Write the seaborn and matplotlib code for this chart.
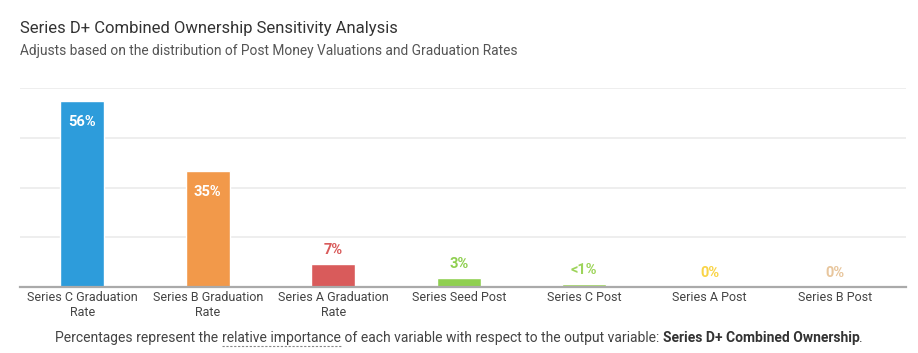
import matplotlib
matplotlib.use("Agg")
import matplotlib.pyplot as plt
import seaborn as sns
import pandas as pd
from matplotlib.lines import Line2D

categories = ["Series C Graduation\nRate", "Series B Graduation\nRate", "Series A Graduation\nRate",
              "Series Seed Post", "Series C Post", "Series A Post", "Series B Post"]
values = [56, 35, 7, 2.7, 0.8, 0, 0]
labels = ["56%", "35%", "7%", "3%", "<1%", "0%", "0%"]
colors = ["#2D9CDB", "#F2994A", "#D95B5B", "#8FCF50", "#9DD45A", "#F9D447", "#E8C69D"]

sns.set_theme(style="white")
plt.rcParams['font.family'] = ['Roboto', 'DejaVu Sans']

fig = plt.figure(figsize=(9.18, 3.53), dpi=100)
W, H = 918, 353
ax = fig.add_axes([19.5 / W, 1 - 287 / H, 886 / W, (287 - 88) / H])

df = pd.DataFrame({"cat": categories, "val": values})
sns.barplot(data=df, x="cat", y="val", hue="cat", palette=colors, legend=False,
            width=0.35, ax=ax, saturation=1)

ax.set_ylim(0, 60)
ax.set_yticks([15, 30, 45, 60])
ax.yaxis.grid(True, color="#EBEBEB", linewidth=1.2)
ax.set_axisbelow(True)
ax.set_yticklabels([])
ax.tick_params(axis="y", length=0)
ax.tick_params(axis="x", length=0, labelsize=9, colors="#444444", pad=3)
ax.set_xlabel("")
ax.set_ylabel("")
for s in ["top", "right", "left"]:
    ax.spines[s].set_visible(False)
ax.spines["bottom"].set_color("#AAAAAA")
ax.spines["bottom"].set_linewidth(1.6)
ax.set_xlim(-0.5, len(categories) - 0.5 + 7.5 / 125.5)

for i, (v, lab, c) in enumerate(zip(values, labels, colors)):
    if v > 20:
        ax.annotate(lab, (i, v), xytext=(0, -10), textcoords="offset points", ha="center", va="top",
                    color="white", fontsize=10.5, fontweight="bold")
    else:
        ax.annotate(lab, (i, v), xytext=(0, 5), textcoords="offset points", ha="center", va="bottom",
                    color=c, fontsize=10.5, fontweight="bold")

fig.text(20 / W, 1 - 28 / H, "Series D+ Combined Ownership Sensitivity Analysis", fontsize=12,
         color="#333333", va="center", ha="left")
fig.text(20 / W, 1 - 51 / H, "Adjusts based on the distribution of Post Money Valuations and Graduation Rates",
         fontsize=9.9, color="#555555", va="center", ha="left")

# footer with mixed styles
pieces = [("Percentages represent the ", "normal", False, 0),
          ("relative importance", "normal", True, 0),
          (" of each variable with respect to the output variable: ", "normal", False, 0),
          ("Series D+ Combined Ownership", "bold", False, -0.5),
          (".", "normal", False, 0)]
fig.canvas.draw()
r = fig.canvas.get_renderer()
ys = 1 - 338 / H
objs = []
for txt, wt, ul, adj in pieces:
    t = fig.text(0, ys, txt, fontsize=10, fontweight=wt, color="#444444" if wt == "normal" else "#333333",
                 va="center", ha="left")
    objs.append((t, ul, adj))
widths = [t.get_window_extent(r).width + adj for t, _, adj in objs]
total = sum(widths)
x = (W / 2 - total / 2)
for (t, ul, adj), w in zip(objs, widths):
    t.set_x(x / W)
    if ul:
        fig.add_artist(Line2D([x / W, (x + w) / W], [1 - 346 / H, 1 - 346 / H], color="#888888",
                              linewidth=0.8, linestyle=(0, (2, 1.5)), transform=fig.transFigure))
    x += w

fig.savefig("out.png", dpi=100)
